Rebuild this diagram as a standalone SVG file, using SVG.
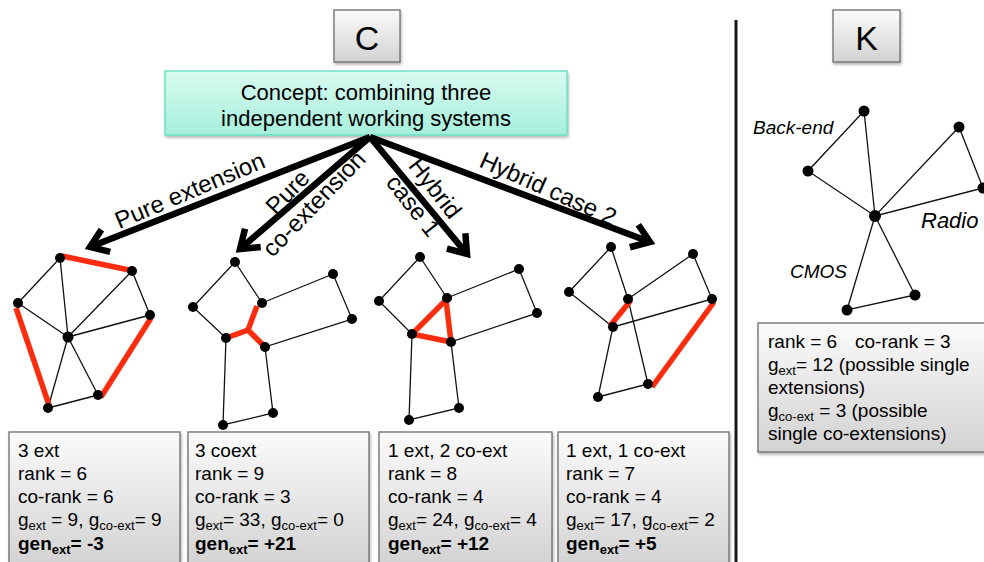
<svg xmlns="http://www.w3.org/2000/svg" width="984" height="562" viewBox="0 0 984 562">
<defs>
  <linearGradient id="gray" x1="0" y1="0" x2="0" y2="1">
    <stop offset="0" stop-color="#fbfbfb"/>
    <stop offset="1" stop-color="#d2d2d2"/>
  </linearGradient>
  <linearGradient id="aqua" x1="0" y1="0" x2="0" y2="1">
    <stop offset="0" stop-color="#d9fbf1"/>
    <stop offset="1" stop-color="#a6efdb"/>
  </linearGradient>
  <filter id="sh" x="-10%" y="-10%" width="120%" height="130%">
    <feDropShadow dx="1" dy="2" stdDeviation="1.5" flood-color="#000" flood-opacity="0.3"/>
  </filter>
  <marker id="head" markerUnits="userSpaceOnUse" viewBox="-24 -16 30 32" refX="0" refY="0" markerWidth="30" markerHeight="32" orient="auto" overflow="visible">
    <path d="M-17,-12 L0,0 L-17,12" fill="none" stroke="#000" stroke-width="6.5" stroke-linejoin="miter"/>
  </marker>
</defs>
<style>
  text { font-family: "Liberation Sans", Arial, sans-serif; fill: #000; }
  .box { fill: url(#gray); stroke: #6e6e6e; stroke-width: 1.3; filter: url(#sh); }
  .lbl { font-size: 24px; }
  .info { font-size: 19px; }
  .sub { font-size: 13px; }
  .e { stroke: #111; stroke-width: 1.3; fill: none; }
  .r { stroke: #fb2d0e; stroke-width: 5.5; fill: none; stroke-linecap: butt; }
  .n { fill: #000; }
  .arr { stroke: #000; stroke-width: 6.5; fill: none; marker-end: url(#head); }
  .it { font-style: italic; font-size: 19px; }
  .it.big { font-size: 22px; }
</style>

<!-- divider -->
<line x1="736" y1="20" x2="736" y2="562" stroke="#1a1a1a" stroke-width="3"/>

<!-- C and K headers -->
<g id="hdrC">
  <rect class="box" x="334" y="10" width="66" height="52"/>
  <text x="367" y="50" font-size="34" text-anchor="middle">C</text>
</g>
<g id="hdrK">
  <rect class="box" x="833" y="10" width="67" height="52"/>
  <text x="866.5" y="50" font-size="34" text-anchor="middle">K</text>
</g>

<!-- concept -->
<g id="concept">
  <rect x="165" y="71" width="402" height="64" fill="url(#aqua)" stroke="#5ddfbf" stroke-width="1.3" filter="url(#sh)"/>
  <text x="366" y="100" font-size="22" text-anchor="middle">Concept: combining three</text>
  <text x="366" y="126" font-size="22" text-anchor="middle">independent working systems</text>
</g>

<!-- arrows -->
<g id="connectors">
  <line class="arr" x1="370" y1="137" x2="90" y2="247"/>
  <line class="arr" x1="370" y1="137" x2="240" y2="249"/>
  <line class="arr" x1="370" y1="137" x2="467" y2="254"/>
  <line class="arr" x1="370" y1="137" x2="650" y2="242"/>
  <text class="lbl" text-anchor="middle" transform="translate(193,198) rotate(-23)">Pure extension</text>
  <g transform="translate(304,194) rotate(-46)">
    <text class="lbl" text-anchor="middle" x="-10" y="-5">Pure</text>
    <text class="lbl" text-anchor="middle" x="0" y="22">co-extension</text>
  </g>
  <g transform="translate(424,197) rotate(52)">
    <text class="lbl" text-anchor="middle" x="0" y="-6">Hybrid</text>
    <text class="lbl" text-anchor="middle" x="0" y="22">case 1</text>
  </g>
  <text class="lbl" text-anchor="middle" transform="translate(545,196) rotate(24)">Hybrid case 2</text>
</g>

<!-- graph 1: pure extension -->
<g id="graph1">
  <line class="e" x1="60" y1="258" x2="18" y2="303"/>
  <line class="e" x1="60" y1="258" x2="68" y2="337"/>
  <line class="e" x1="132" y1="271" x2="68" y2="337"/>
  <line class="e" x1="132" y1="271" x2="150" y2="315"/>
  <line class="e" x1="18" y1="303" x2="68" y2="337"/>
  <line class="e" x1="150" y1="315" x2="68" y2="337"/>
  <line class="e" x1="68" y1="337" x2="98" y2="395"/>
  <line class="e" x1="68" y1="337" x2="48" y2="408"/>
  <line class="e" x1="48" y1="408" x2="98" y2="395"/>
  <line class="r" x1="62" y1="256" x2="134" y2="271"/>
  <line class="r" x1="16" y1="308" x2="50" y2="408"/>
  <line class="r" x1="151" y1="318" x2="101" y2="397"/>
  <circle class="n" cx="60" cy="258" r="5"/>
  <circle class="n" cx="132" cy="271" r="5"/>
  <circle class="n" cx="18" cy="303" r="5"/>
  <circle class="n" cx="150" cy="315" r="5"/>
  <circle class="n" cx="68" cy="337" r="5.5"/>
  <circle class="n" cx="98" cy="395" r="5"/>
  <circle class="n" cx="48" cy="408" r="5"/>
</g>

<!-- graph 2: pure co-extension -->
<g id="graph2">
  <polyline class="e" points="262,303 235,262 193,307 226,338 223,425 273,413 265,347 352,319 333,274 262,303"/>
  <polyline class="r" points="257,306 248,330 226,338"/>
  <line class="r" x1="248" y1="330" x2="265" y2="347"/>
  <circle class="n" cx="235" cy="262" r="5"/>
  <circle class="n" cx="193" cy="307" r="5"/>
  <circle class="n" cx="262" cy="303" r="5"/>
  <circle class="n" cx="333" cy="274" r="5"/>
  <circle class="n" cx="352" cy="319" r="5"/>
  <circle class="n" cx="226" cy="338" r="5"/>
  <circle class="n" cx="265" cy="347" r="5"/>
  <circle class="n" cx="223" cy="425" r="5"/>
  <circle class="n" cx="273" cy="413" r="5"/>
</g>

<!-- graph 3: hybrid case 1 -->
<g id="graph3">
  <polyline class="e" points="447,298 420,257 379,301 412,334 409,420 459,408 451,342 537,313 519,269 447,298"/>
  <polygon class="r" points="446,300 451,342 412,334" stroke-linejoin="miter"/>
  <circle class="n" cx="420" cy="257" r="5"/>
  <circle class="n" cx="379" cy="301" r="5"/>
  <circle class="n" cx="447" cy="298" r="5"/>
  <circle class="n" cx="519" cy="269" r="5"/>
  <circle class="n" cx="537" cy="313" r="5"/>
  <circle class="n" cx="412" cy="334" r="5"/>
  <circle class="n" cx="451" cy="342" r="5"/>
  <circle class="n" cx="409" cy="420" r="5"/>
  <circle class="n" cx="459" cy="408" r="5"/>
</g>

<!-- graph 4: hybrid case 2 -->
<g id="graph4">
  <polyline class="e" points="628,299 611,247 569,292 613,327 598,397 648,384 628,299"/>
  <polyline class="e" points="628,299 693,254 712,299 613,327"/>
  <line class="r" x1="631" y1="300" x2="610" y2="326"/>
  <line class="r" x1="714" y1="302" x2="652" y2="387"/>
  <circle class="n" cx="611" cy="247" r="5"/>
  <circle class="n" cx="569" cy="292" r="5"/>
  <circle class="n" cx="628" cy="299" r="5"/>
  <circle class="n" cx="693" cy="254" r="5"/>
  <circle class="n" cx="712" cy="299" r="5"/>
  <circle class="n" cx="613" cy="327" r="5"/>
  <circle class="n" cx="648" cy="384" r="5"/>
  <circle class="n" cx="598" cy="397" r="5"/>
</g>

<!-- graph K -->
<g id="graphK">
  <polyline class="e" points="875,216 864,111 808,171 875,216 959,127 983,188 875,216 915,295 847,310 875,216"/>
  <circle class="n" cx="864" cy="111" r="5.5"/>
  <circle class="n" cx="808" cy="171" r="5.5"/>
  <circle class="n" cx="875" cy="216" r="6"/>
  <circle class="n" cx="959" cy="127" r="5.5"/>
  <circle class="n" cx="983" cy="188" r="5.5"/>
  <circle class="n" cx="915" cy="295" r="5.5"/>
  <circle class="n" cx="847" cy="310" r="5.5"/>
  <text class="it" x="753" y="134">Back-end</text>
  <text class="it big" x="921" y="228">Radio</text>
  <text class="it" x="790" y="278">CMOS</text>
</g>

<!-- info boxes -->
<g id="info1">
  <rect class="box" x="9" y="432" width="171" height="135"/>
  <text class="info" x="18" y="457">3 ext</text>
  <text class="info" x="18" y="480">rank = 6</text>
  <text class="info" x="18" y="503">co-rank = 6</text>
  <text class="info" x="18" y="526">g<tspan class="sub" dy="4">ext</tspan><tspan dy="-4"> = 9, g</tspan><tspan class="sub" dy="4">co-ext</tspan><tspan dy="-4">= 9</tspan></text>
  <text class="info" x="18" y="550" font-weight="bold">gen<tspan class="sub" dy="4">ext</tspan><tspan dy="-4">= -3</tspan></text>
</g>
<g id="info2">
  <rect class="box" x="188" y="432" width="181" height="135"/>
  <text class="info" x="195" y="457">3 coext</text>
  <text class="info" x="195" y="480">rank = 9</text>
  <text class="info" x="195" y="503">co-rank = 3</text>
  <text class="info" x="195" y="526">g<tspan class="sub" dy="4">ext</tspan><tspan dy="-4">= 33, g</tspan><tspan class="sub" dy="4">co-ext</tspan><tspan dy="-4">= 0</tspan></text>
  <text class="info" x="195" y="550" font-weight="bold">gen<tspan class="sub" dy="4">ext</tspan><tspan dy="-4">= +21</tspan></text>
</g>
<g id="info3">
  <rect class="box" x="379" y="432" width="173" height="135"/>
  <text class="info" x="388" y="457">1 ext, 2 co-ext</text>
  <text class="info" x="388" y="480">rank = 8</text>
  <text class="info" x="388" y="503">co-rank = 4</text>
  <text class="info" x="388" y="526">g<tspan class="sub" dy="4">ext</tspan><tspan dy="-4">= 24, g</tspan><tspan class="sub" dy="4">co-ext</tspan><tspan dy="-4">= 4</tspan></text>
  <text class="info" x="388" y="550" font-weight="bold">gen<tspan class="sub" dy="4">ext</tspan><tspan dy="-4">= +12</tspan></text>
</g>
<g id="info4">
  <rect class="box" x="558" y="432" width="171" height="135"/>
  <text class="info" x="566" y="457">1 ext, 1 co-ext</text>
  <text class="info" x="566" y="480">rank = 7</text>
  <text class="info" x="566" y="503">co-rank = 4</text>
  <text class="info" x="566" y="526">g<tspan class="sub" dy="4">ext</tspan><tspan dy="-4">= 17, g</tspan><tspan class="sub" dy="4">co-ext</tspan><tspan dy="-4">= 2</tspan></text>
  <text class="info" x="566" y="550" font-weight="bold">gen<tspan class="sub" dy="4">ext</tspan><tspan dy="-4">= +5</tspan></text>
</g>
<g id="infoK">
  <rect class="box" x="758" y="323" width="240" height="129"/>
  <text class="info" x="768" y="348">rank = 6<tspan x="855">co-rank = 3</tspan></text>
  <text class="info" x="768" y="371">g<tspan class="sub" dy="4">ext</tspan><tspan dy="-4">= 12 (possible single</tspan></text>
  <text class="info" x="768" y="394">extensions)</text>
  <text class="info" x="768" y="417">g<tspan class="sub" dy="4">co-ext</tspan><tspan dy="-4"> = 3 (possible</tspan></text>
  <text class="info" x="768" y="440">single co-extensions)</text>
</g>
</svg>
